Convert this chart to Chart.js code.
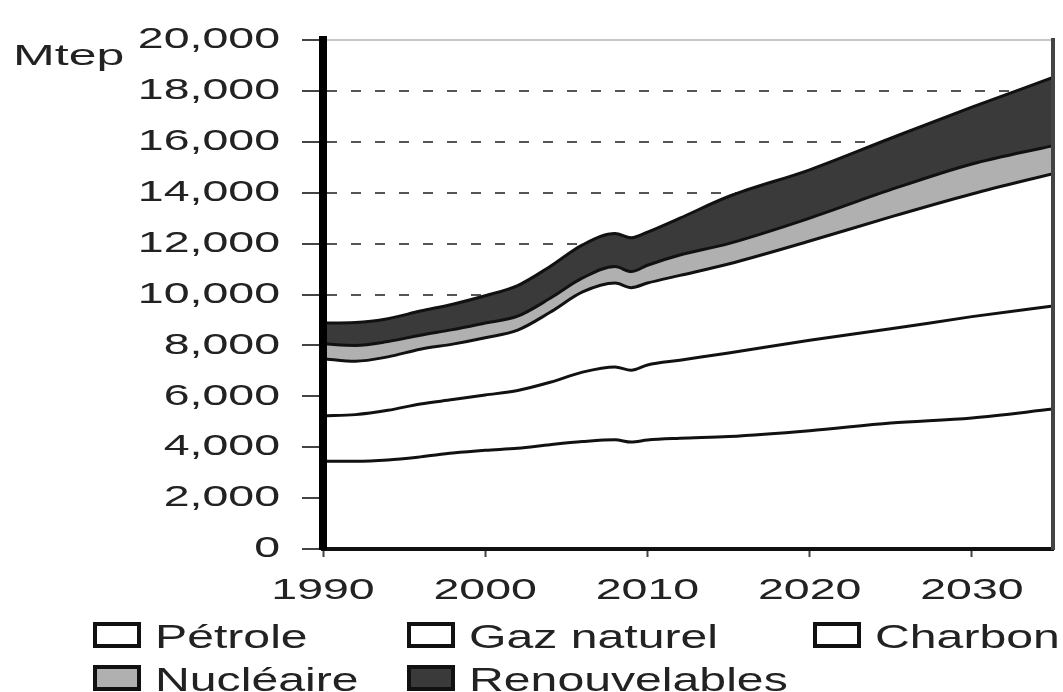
<!DOCTYPE html>
<html>
<head>
<meta charset="utf-8">
<script src="https://cdn.jsdelivr.net/npm/chart.js@4.4.0/dist/chart.umd.min.js"></script>
<style>
  html, body { margin: 0; padding: 0; background: #fff; }
  #wrap { position: relative; width: 1063px; height: 692px; font-family: "Liberation Sans", Arial, sans-serif; color: #222; }
  #chart { position: absolute; left: 0; top: 0; }
  .unit { position: absolute; left: 13px; top: 40px; font-size: 30px; line-height: 30px; transform: scaleX(1.67); transform-origin: left top; }
  .item { position: absolute; height: 33px; }
  .box { position: absolute; left: 0; top: 2px; width: 48px; height: 26px; box-sizing: border-box; border: 4px solid #111; }
  .label { position: absolute; left: 62px; top: 0; font-size: 33px; line-height: 33px; white-space: nowrap; transform: scaleX(1.46); transform-origin: left top; }
</style>
</head>
<body>
<div id="wrap">
  <canvas id="chart" width="1063" height="692"></canvas>
  <div class="unit">Mtep</div>
  <div class="item" style="left:93px;top:620px"><span class="box" style="background:#fff"></span><span class="label">Pétrole</span></div>
  <div class="item" style="left:407px;top:620px"><span class="box" style="background:#fff"></span><span class="label">Gaz naturel</span></div>
  <div class="item" style="left:813px;top:620px"><span class="box" style="background:#fff"></span><span class="label">Charbon</span></div>
  <div class="item" style="left:93px;top:663px"><span class="box" style="background:#b0b0b0"></span><span class="label">Nucléaire</span></div>
  <div class="item" style="left:407px;top:663px"><span class="box" style="background:#3a3a3a"></span><span class="label">Renouvelables</span></div>
</div>
<script>
// Demande mondiale d'énergie primaire par source (Mtep)
const years = [1990, 1992, 1994, 1996, 1998, 2000, 2002, 2004, 2006, 2008, 2009, 2010, 2012, 2015, 2020, 2025, 2030, 2035];
const petrole       = [3450, 3450, 3500, 3620, 3770, 3880, 3960, 4100, 4220, 4290, 4200, 4280, 4350, 4420, 4650, 4950, 5150, 5500];
const gazNaturel    = [1780, 1830, 1950, 2080, 2100, 2170, 2270, 2450, 2730, 2860, 2820, 2950, 3070, 3280, 3550, 3700, 3980, 4050];
const charbon       = [2250, 2100, 2100, 2150, 2180, 2250, 2370, 2750, 3150, 3300, 3250, 3220, 3330, 3500, 3900, 4400, 4820, 5200];
const nucleaire     = [580, 620, 600, 550, 570, 580, 550, 550, 550, 650, 630, 700, 800, 800, 900, 1070, 1180, 1100];
const renouvelables = [820, 900, 900, 950, 1000, 1070, 1200, 1250, 1300, 1300, 1330, 1300, 1450, 1850, 1900, 2020, 2230, 2680];

// axis ticks
const decadeTicks = [1990, 2000, 2010, 2020, 2030];

const FONT = '"Liberation Sans", Arial, sans-serif';

function makeSet(label, values, color, fill) {
    return {
        label: label,
        data: years.map((yr, i) => ({ x: yr, y: values[i] })),
        backgroundColor: color,
        borderColor: '#111',
        borderWidth: 3,
        fill: fill,
        pointRadius: 0,
        cubicInterpolationMode: 'monotone'
    };
}

// the source picture is stretched sideways, so widen tick text the same way
const stretchTicks = {
    id: 'stretchTicks',
    beforeDraw(chart) {
        ['x', 'y'].forEach(id => {
            const scale = chart.scales[id];
            if (scale._stretched) return;
            const drawLabels = scale.drawLabels;
            scale.drawLabels = function (area) {
                const ctx = this.ctx;
                const fill = ctx.fillText;
                ctx.fillText = function (text, x, y) {
                    ctx.save();
                    ctx.translate(x, y);
                    ctx.scale(1.55, 1);
                    fill.call(ctx, text, 0, 0);
                    ctx.restore();
                };
                drawLabels.call(this, area);
                delete ctx.fillText;
            };
            scale._stretched = true;
        });
    }
};

new Chart(document.getElementById('chart'), {
    type: 'line',
    data: {
        datasets: [
            makeSet('Pétrole', petrole, '#ffffff', 'origin'),
            makeSet('Gaz naturel', gazNaturel, '#ffffff', '-1'),
            makeSet('Charbon', charbon, '#ffffff', '-1'),
            makeSet('Nucléaire', nucleaire, '#b0b0b0', '-1'),
            makeSet('Renouvelables', renouvelables, '#3a3a3a', '-1')
        ]
    },
    options: {
        responsive: false,
        animation: false,
        layout: { padding: { left: 0, top: 32, right: 10, bottom: 0 } },
        plugins: {
            legend: { display: false },
            tooltip: { enabled: false }
        },
        scales: {
            x: {
                type: 'linear',
                min: 1990,
                max: 2035,
                afterBuildTicks: s => { s.ticks = decadeTicks.map(v => ({ value: v })); },
                afterFit: s => { s.height = 143; },
                grid: { drawOnChartArea: false, drawTicks: true, tickLength: 8, tickColor: '#444', tickWidth: 2 },
                border: { display: true, color: '#111', width: 4, z: 1 },
                ticks: {
                    padding: 16,
                    color: '#222',
                    maxRotation: 0,
                    autoSkip: false,
                    font: { size: 30, family: FONT },
                    callback: v => String(v)
                }
            },
            x2: {
                type: 'linear',
                position: 'top',
                afterFit: s => { s.height = 0; },
                grid: { display: false },
                border: { display: true, color: '#c8c8c8', width: 2, z: 1 },
                ticks: { display: false }
            },
            y: {
                stacked: true,
                min: 0,
                max: 20000,
                afterFit: s => { s.width = 323; },
                grid: {
                    color: c => (c.tick && c.tick.value === 20000) ? 'rgba(0,0,0,0)' : '#555',
                    lineWidth: 2,
                    tickLength: 21,
                    tickColor: '#444',
                    tickWidth: 2
                },
                border: { display: true, color: '#000', width: 8, z: 1, dash: [10, 14] },
                ticks: {
                    stepSize: 2000,
                    padding: 22,
                    color: '#222',
                    font: { size: 30, family: FONT },
                    callback: v => v.toLocaleString('en-US')
                }
            },
            y2: {
                position: 'right',
                afterFit: s => { s.width = 0; },
                grid: { display: false },
                border: { display: true, color: '#444', width: 4, z: 1 },
                ticks: { display: false }
            }
        }
    },
    plugins: [stretchTicks]
});
</script>
</body>
</html>
